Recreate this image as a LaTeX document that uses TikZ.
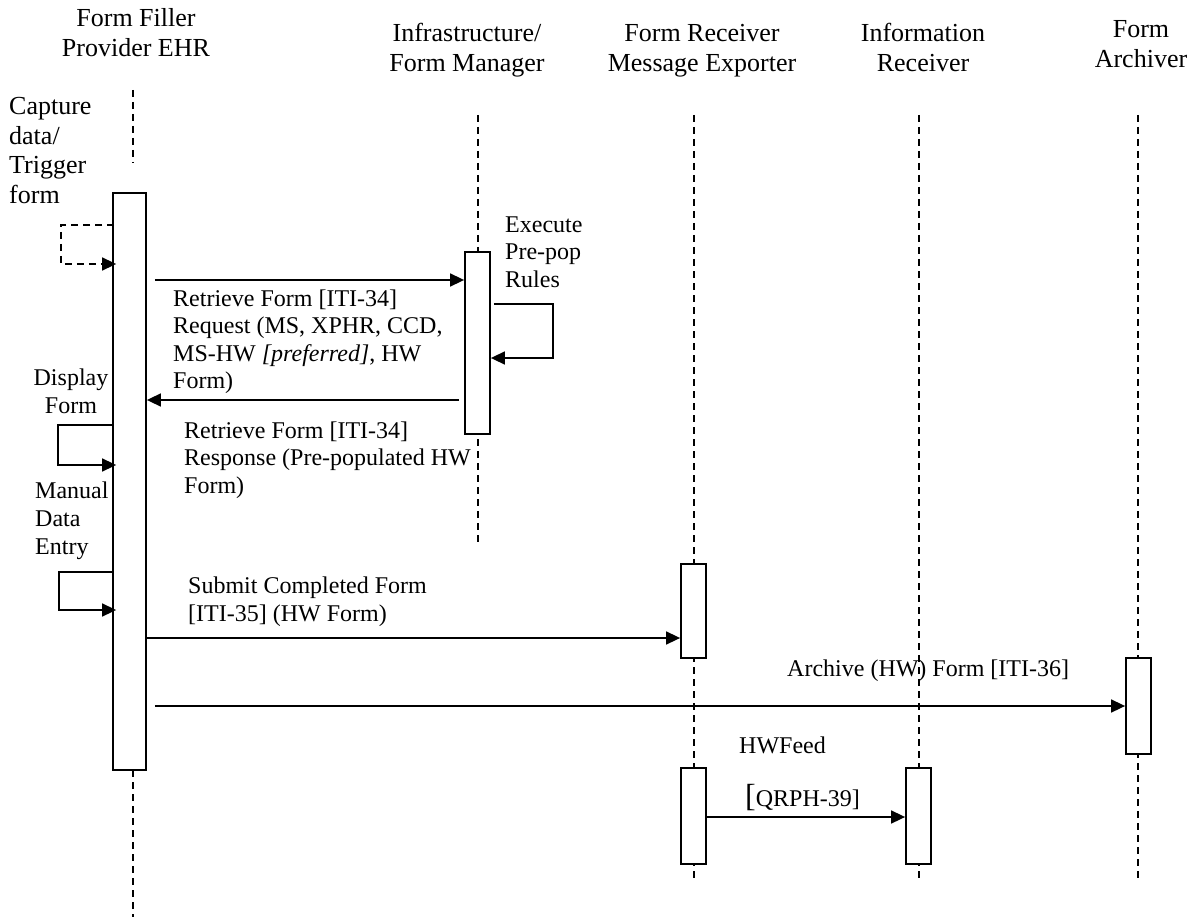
\documentclass[tikz,border=0pt]{standalone}
\usepackage{fontspec}
\setmainfont{Liberation Serif}
\usetikzlibrary{arrows.meta}
\begin{document}
\begin{tikzpicture}[x=1pt,y=-1pt,
  lbl/.style={font=\fontsize{24}{27.6}\selectfont, inner sep=0pt, align=left, anchor=base west},
  clbl/.style={font=\fontsize{24}{27.6}\selectfont, inner sep=0pt, align=center, anchor=base},
  biglbl/.style={font=\fontsize{26}{29.5}\selectfont, inner sep=0pt, align=left, anchor=base west},
  hdr/.style={font=\fontsize{26}{30}\selectfont, inner sep=0pt, align=center, anchor=base},
  act/.style={draw, fill=white, line width=1.8pt, inner sep=0pt, minimum width=25pt},
  life/.style={line width=1.6pt, dash pattern=on 7pt off 5pt},
  msg/.style={line width=1.6pt, -{Triangle[length=14pt,width=13pt]}},
  dmsg/.style={line width=1.6pt, dash pattern=on 7pt off 5pt, -{Triangle[length=14pt,width=13pt]}}]
\useasboundingbox (0,0) rectangle (1201,917);

% headers (anchor = baseline of the last line)
\node[hdr] (hff) at (136,57) {Form Filler\\Provider EHR};
\node[hdr] (hinf) at (467,72) {Infrastructure/\\Form Manager};
\node[hdr] (hfr) at (702,72) {Form Receiver\\Message Exporter};
\node[hdr] (hir) at (923,72) {Information\\Receiver};
\node[hdr] (hfa) at (1141,68) {Form\\Archiver};

% lifeline end points
\coordinate (ff1) at (133,90);  \coordinate (ff2) at (133,163);
\coordinate (ff3) at (133,770); \coordinate (ff4) at (133,917);
\coordinate (inf1) at (478,115); \coordinate (inf2) at (478,545);
\coordinate (fr1) at (694,115); \coordinate (fr2) at (694,882);
\coordinate (ir1) at (919,115); \coordinate (ir2) at (919,882);
\coordinate (fa1) at (1138,115); \coordinate (fa2) at (1138,882);

\draw[life] (ff1) -- (ff2);
\draw[life] (ff3) -- (ff4);
\draw[life] (inf1) -- (inf2);
\draw[life] (fr1) -- (fr2);
\draw[life] (ir1) -- (ir2);
\draw[life] (fa1) -- (fa2);

% activation boxes
\node[act, minimum width=33pt, minimum height=577pt] (ffbox) at (129.5,481.5) {};
\node[act, minimum height=182pt] (infbox) at (477.5,343) {};
\node[act, minimum height=94pt] (frbox1) at (693.5,611) {};
\node[act, minimum height=96pt] (frbox2) at (693.5,816) {};
\node[act, minimum height=96pt] (irbox) at (918.5,816) {};
\node[act, minimum height=96pt] (fabox) at (1138.5,706) {};

% capture data / trigger form (dashed self loop)
\node[biglbl] (lcap) at (9,203.5) {Capture\\data/\\Trigger\\form};
\coordinate (c1) at (61,225);
\coordinate (c2) at (61,264);
\draw[dmsg] ([xshift=2pt]ffbox.west |- c1) -- (c1) -- (c2) -- ([xshift=4pt]ffbox.west |- c2);

% request
\coordinate (yreq) at (0,280);
\draw[msg] ([xshift=8pt]ffbox.east |- yreq) -- (infbox.west |- yreq);
\node[lbl] (lreq) at (173,388.8) {Retrieve Form {[ITI-34]}\\Request (MS, XPHR, CCD,\\MS-HW \textit{[preferred]}, HW\\Form)};

% pre-pop rules
\node[lbl] (lpre) at (505,287.2) {Execute\\Pre-pop\\Rules};
\coordinate (p1) at (553,304);
\coordinate (p2) at (553,358);
\draw[msg] ([xshift=3pt]infbox.east |- p1) -- (p1) -- (p2) -- (infbox.east |- p2);

% response
\coordinate (yresp) at (0,400);
\draw[msg] ([xshift=-5pt]infbox.west |- yresp) -- (ffbox.east |- yresp);
\node[lbl] (lresp) at (184,493.2) {Retrieve Form {[ITI-34]}\\Response (Pre-populated HW\\Form)};

% display form
\node[clbl] (ldisp) at (71,413) {Display\\Form};
\coordinate (d1) at (58,425);
\coordinate (d2) at (58,465);
\draw[msg] (ffbox.west |- d1) -- (d1) -- (d2) -- ([xshift=4pt]ffbox.west |- d2);

% manual data entry
\node[lbl] (lman) at (35,554) {Manual\\Data\\Entry};
\coordinate (m1) at (59,572);
\coordinate (m2) at (59,610);
\draw[msg] (ffbox.west |- m1) -- (m1) -- (m2) -- ([xshift=4pt]ffbox.west |- m2);

% submit
\coordinate (ysub) at (0,638);
\draw[msg] (ffbox.east |- ysub) -- (frbox1.west |- ysub);
\node[lbl] (lsub) at (188,621) {Submit Completed Form\\{[ITI-35]} (HW Form)};

% archive
\draw[msg] ([xshift=8pt]ffbox.east |- fabox.west) -- (fabox.west);
\node[lbl] (larc) at (787,676) {Archive (HW) Form {[ITI-36]}};

% HW feed
\coordinate (yfeed) at (0,817);
\draw[msg] (frbox2.east |- yfeed) -- (irbox.west |- yfeed);
\node[lbl] (lfeed) at (739,753) {HWFeed};
\node[lbl] (lqrph) at (745,806) {{\fontsize{32}{32}\selectfont [}QRPH-39]};
\end{tikzpicture}
\end{document}
